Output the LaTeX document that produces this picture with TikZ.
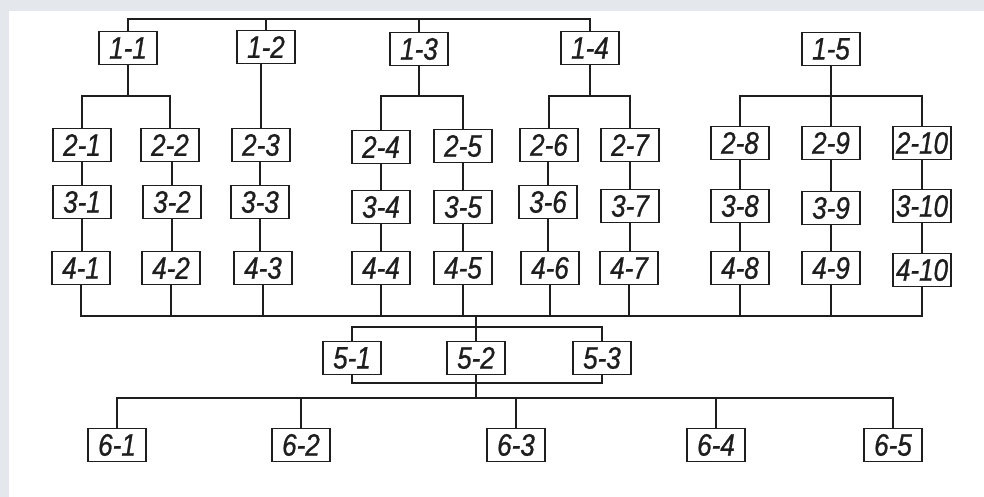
\documentclass[tikz,border=0pt]{standalone}
\usepackage{fontspec}
\newfontfamily\lblfont{Liberation Sans}[FakeStretch=0.84,FakeBold=0.8]
\definecolor{ink}{HTML}{1E1E1E}
\definecolor{band}{HTML}{E4E7EB}
\begin{document}
\begin{tikzpicture}[x=1pt,y=-1pt,
  box/.style={draw=ink,line width=1.9pt,minimum width=58pt,minimum height=33pt,inner sep=0pt,
    font=\lblfont\itshape\fontsize{31}{32}\selectfont,text=ink},
  wire/.style={draw=ink,line width=1.6pt}]
\useasboundingbox (0,0) rectangle (984,497);
\fill[white] (0,0) rectangle (984,497);
\fill[band] (0,0) rectangle (984,11);
\fill[band] (0,0) rectangle (9,497);
% row 1
\node[box] (n11) at (128,48) {1-1};
\node[box] (n12) at (266,47) {1-2};
\node[box] (n13) at (419,49) {1-3};
\node[box] (n14) at (590,48) {1-4};
\node[box] (n15) at (831,49) {1-5};
% row 2
\node[box] (n21) at (82,145) {2-1};
\node[box] (n22) at (170,145) {2-2};
\node[box] (n23) at (261,145) {2-3};
\node[box] (n24) at (381,147) {2-4};
\node[box] (n25) at (463,146) {2-5};
\node[box] (n26) at (549,145) {2-6};
\node[box] (n27) at (630,145) {2-7};
\node[box] (n28) at (740,143) {2-8};
\node[box] (n29) at (831,143) {2-9};
\node[box] (n210) at (922,143) {2-10};
% row 3
\node[box] (n31) at (82,202) {3-1};
\node[box] (n32) at (172,202) {3-2};
\node[box] (n33) at (260,202) {3-3};
\node[box] (n34) at (381,207) {3-4};
\node[box] (n35) at (463,207) {3-5};
\node[box] (n36) at (548,202) {3-6};
\node[box] (n37) at (630,206) {3-7};
\node[box] (n38) at (740,206) {3-8};
\node[box] (n39) at (831,208) {3-9};
\node[box] (n310) at (922,206) {3-10};
% row 4
\node[box] (n41) at (81,268) {4-1};
\node[box] (n42) at (171,268) {4-2};
\node[box] (n43) at (263,268) {4-3};
\node[box] (n44) at (381,268) {4-4};
\node[box] (n45) at (463,268) {4-5};
\node[box] (n46) at (550,268) {4-6};
\node[box] (n47) at (629,268) {4-7};
\node[box] (n48) at (740,268) {4-8};
\node[box] (n49) at (831,268) {4-9};
\node[box] (n410) at (922,270) {4-10};
% row 5
\node[box] (n51) at (352,358) {5-1};
\node[box] (n52) at (476,358) {5-2};
\node[box] (n53) at (602,358) {5-3};
% row 6
\node[box] (n61) at (117,445) {6-1};
\node[box] (n62) at (301,445) {6-2};
\node[box] (n63) at (516,445) {6-3};
\node[box] (n64) at (716,445) {6-4};
\node[box] (n65) at (893,445) {6-5};
% bus levels
\coordinate (b0) at (0,19);
\coordinate (b1) at (0,96);
\coordinate (b2) at (0,316);
\coordinate (b3) at (0,327);
\coordinate (b4) at (0,383);
\coordinate (b5) at (0,398);
% top bus
\draw[wire] (n11.north) |- (n14.north |- b0) -- (n14.north);
\draw[wire] (n12.north) -- (n12.north |- b0);
\draw[wire] (n13.north) -- (n13.north |- b0);
% level 1 to level 2
\draw[wire] (n11.south) -- (n11.south |- b1);
\draw[wire] (n21.north) |- (n22.north |- b1) -- (n22.north);
\draw[wire] (n23.north) -- (n23.north |- n12.south);
\draw[wire] (n13.south) -- (n13.south |- b1);
\draw[wire] (n24.north) |- (n25.north |- b1) -- (n25.north);
\draw[wire] (n14.south) -- (n14.south |- b1);
\draw[wire] (n26.north) |- (n27.north |- b1) -- (n27.north);
\draw[wire] (n15.south) -- (n29.north);
\draw[wire] (n28.north) |- (n210.north |- b1) -- (n210.north);
% chains
\foreach \i in {1,...,10}{
  \draw[wire] (n3\i.north) -- (n3\i.north |- n2\i.south);
  \draw[wire] (n3\i.south) -- (n3\i.south |- n4\i.north);
}
% bottom bus
\draw[wire] (n41.south) |- (n410.south |- b2) -- (n410.south);
\foreach \i in {2,...,9}{
  \draw[wire] (n4\i.south) -- (n4\i.south |- b2);
}
\draw[wire] (n52.north |- b2) -- (n52.north);
\draw[wire] (n51.north) |- (n53.north |- b3) -- (n53.north);
% level 5 to level 6
\draw[wire] (n51.south) |- (n53.south |- b4) -- (n53.south);
\draw[wire] (n52.south) -- (n52.south |- b5);
\draw[wire] (n61.north) |- (n65.north |- b5) -- (n65.north);
\draw[wire] (n62.north) -- (n62.north |- b5);
\draw[wire] (n63.north) -- (n63.north |- b5);
\draw[wire] (n64.north) -- (n64.north |- b5);
\end{tikzpicture}
\end{document}
